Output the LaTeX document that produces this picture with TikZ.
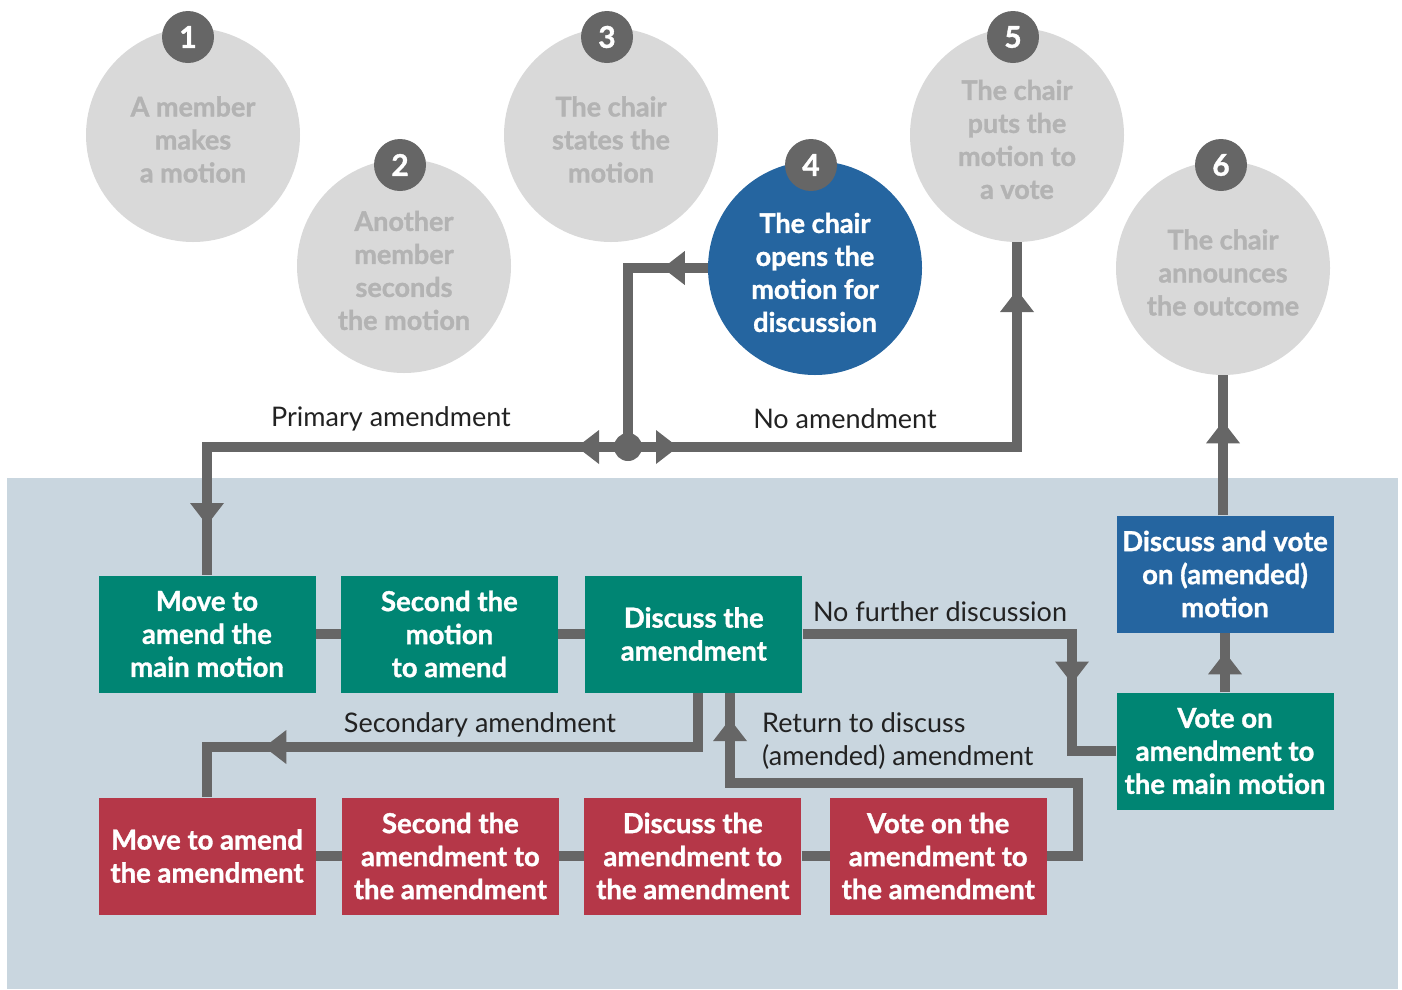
\documentclass[tikz,border=0pt]{standalone}
\usepackage{fontspec}
\setmainfont{Lato}[BoldFeatures={FakeBold=1.2}]
\usepackage{xcolor}
\usetikzlibrary{arrows.meta}
\usetikzlibrary{decorations.markings}
\usetikzlibrary{positioning}

\definecolor{linegray}{HTML}{666666}
\definecolor{circgray}{HTML}{D9D9D9}
\definecolor{circtext}{HTML}{B3B3B3}
\definecolor{stepgreen}{HTML}{008573}
\definecolor{stepred}{HTML}{B53748}
\definecolor{stepblue}{HTML}{2565A0}
\definecolor{panel}{HTML}{C9D6DF}
\definecolor{labeltext}{HTML}{222222}
\newcommand{\circstrut}{\rule{0pt}{29pt}}

\begin{document}
\begin{tikzpicture}[x=1pt, y=-1pt,
	stage/.style={circle, fill=circgray, text=circtext, minimum size=214pt, inner sep=0pt, align=center, font=\bfseries\fontsize{27}{33}\selectfont},
	stage on/.style={stage, fill=stepblue, text=white},
	badge/.style={circle, fill=linegray, text=white, minimum size=52pt, inner sep=0pt, font=\bfseries\fontsize{30}{30}\selectfont},
	box/.style={rectangle, minimum width=217pt, minimum height=117pt, inner sep=0pt, align=center, text=white, font=\bfseries\fontsize{27.5}{33}\selectfont},
	green box/.style={box, fill=stepgreen},
	red box/.style={box, fill=stepred},
	blue box/.style={box, fill=stepblue},
	conn/.style={draw=linegray, line width=10pt},
	midtip/.style={postaction={decorate, decoration={markings, mark=at position #1 with {\arrow{Triangle[length=22pt, width=34pt, line width=0pt, color=linegray]}}}}},
	lbl/.style={text=labeltext, font=\fontsize{27}{33}\selectfont, inner sep=0pt},
]
\useasboundingbox (0,0) rectangle (1402,989);
\fill[panel] (7,478) rectangle (1398,989);
% the six steps
\node [stage]    (c1) at (193,135)  {\circstrut A member\\makes\\a motion};
\node [stage]    (c2) at (404,266)  {\circstrut Another\\member\\seconds\\the motion};
\node [stage]    (c3) at (611,135)  {\circstrut The chair\\states the\\motion};
\node [stage on] (c4) at (815,268)  {\circstrut The chair\\opens the\\motion for\\discussion};
\node [stage]    (c5) at (1017,135) {\circstrut The chair\\puts the\\motion to\\a vote};
\node [stage]    (c6) at (1223,268) {\circstrut The chair\\announces\\the outcome};
\node [badge] (n1) at (188,37)  {1};
\node [badge] (n2) at (400,165) {2};
\node [badge] (n3) at (607,37)  {3};
\node [badge] (n4) at (811,165) {4};
\node [badge] (n5) at (1013,37) {5};
\node [badge] (n6) at (1221,165) {6};
%
\node [green box] (g1) at (207,634) {Move to\\amend the\\main motion};
\node [green box] (g2) [right=25pt of g1] {Second the\\motion\\to amend};
\node [green box] (g3) [right=27pt of g2] {Discuss the\\amendment};
\node [blue box]  (b1) at (1225,574) {Discuss and vote\\on (amended)\\motion};
\node [green box] (g4) at (1225,751) {Vote on\\amendment to\\the main motion};
\node [red box]   (r1) at (207,856) {Move to amend\\the amendment};
\node [red box]   (r2) [right=26pt of r1] {Second the\\amendment to\\the amendment};
\node [red box]   (r3) [right=25pt of r2] {Discuss the\\amendment to\\the amendment};
\node [red box]   (r4) [right=28pt of r3] {Vote on the\\amendment to\\the amendment};
%
\coordinate (junc) at (628,447);
\coordinate (nfd)  at (1072,634);
\coordinate (sec)  at (698,747);
\coordinate (ret)  at (1078,783);
\coordinate (ret2) at (730,783);
\draw [conn, midtip=45pt] (c4) -| (junc);
\draw [conn, midtip=51pt, midtip=499pt] (junc) -| (g1);
\draw [conn, midtip=50pt, midtip=546pt] (junc) -| (c5);
\node [circle, fill=linegray, minimum size=28pt, inner sep=0pt] (jdot) at (junc) {};
\draw [conn] (g1) -- (g2);
\draw [conn] (g2) -- (g3);
\draw [conn, midtip=319pt] (g3) -- (nfd) |- (g4);
\draw [conn, midtip=40pt] (g4) -- (b1);
\draw [conn, midtip=94pt] (b1.north -| c6) -- (c6);
\draw [conn, midtip=488pt] (g3.south -| sec) -- (sec) -| (r1);
\draw [conn] (r1) -- (r2);
\draw [conn] (r2) -- (r3);
\draw [conn] (r3) -- (r4);
\draw [conn, midtip=516pt] (r4) -| (ret) -- (ret2) -- (ret2 |- g3.south);
%
\node [lbl] (primary)   at (391,419) {Primary amendment};
\node [lbl] (noamend)   at (845,419) {No amendment};
\node [lbl] (nofurther) at (940,612) {No further discussion};
\node [lbl] (secondary) at (480,725) {Secondary amendment};
\node [lbl, align=left, anchor=west] (return) at (762,741) {Return to discuss\\(amended) amendment};
\end{tikzpicture}
\end{document}
